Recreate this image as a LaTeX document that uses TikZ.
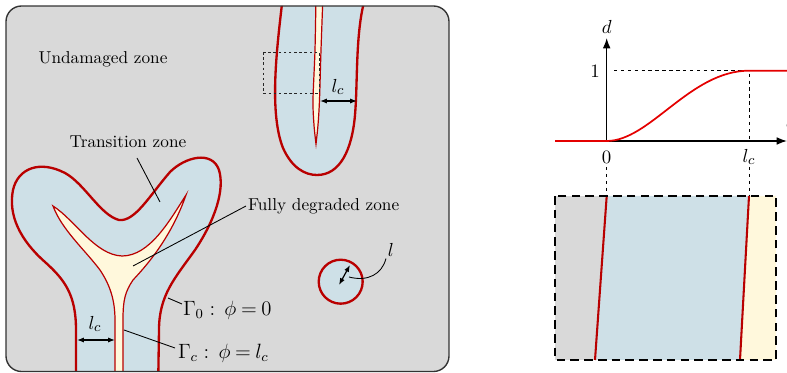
\documentclass[tikz,border=0pt]{standalone}
\usetikzlibrary{arrows.meta}
\definecolor{bgray}{RGB}{217,217,217}
\definecolor{tblue}{RGB}{206,224,231}
\definecolor{fcream}{RGB}{255,248,220}
\definecolor{bred}{RGB}{185,0,0}
\definecolor{cred}{RGB}{228,0,0}
\begin{document}
\begin{tikzpicture}[x=0.58pt,y=-0.58pt,
  outer/.style={draw=bred,line width=1.35pt,fill=tblue},
  inner/.style={draw=bred,line width=0.7pt,fill=fcream},
  lead/.style={line width=0.5pt},
  dimarrow/.style={{Latex[length=4pt,width=3pt]}-{Latex[length=4pt,width=3pt]},line width=0.7pt},
  axisarrow/.style={-{Latex[length=6pt,width=4.5pt]},line width=0.8pt},
  guide/.style={dash pattern=on 2pt off 2pt,line width=0.45pt},
  lbl/.style={inner sep=1pt},
  mlbl/.style={inner sep=1pt,font=\fontsize{11}{13}\selectfont},
  glbl/.style={inner sep=1pt,font=\large}]
\useasboundingbox (0,0) rectangle (787,373);

% ---------------- left panel ----------------
\begin{scope}
\clip[rounded corners=9pt] (6,6) rectangle (449,371.5);
\fill[bgray] (6,6) rectangle (449,371.5);
% top crack
\draw[outer] (283,-5) .. controls (278,40) and (268,110) .. (283,148)
  .. controls (292,168) and (305,175) .. (317,175)
  .. controls (340,175) and (352,150) .. (355,115)
  .. controls (358,80) and (355,30) .. (366,-5) -- cycle;
\draw[inner] (316,-5) -- plot[smooth] coordinates {(316,-5) (315,50) (313,100) (314,125) (316,144)}
  -- plot[smooth] coordinates {(316,144) (318,125) (319.5,100) (321,50) (323,-5)} -- cycle;
% Y-shaped crack
\draw[outer] (76,395) -- (76,330)
  .. controls (76,295) and (65,280) .. (45,262)
  .. controls (20,240) and (8,215) .. (13,190)
  .. controls (18,168) and (40,160) .. (65,173)
  .. controls (85,184) and (100,215) .. (119,220)
  .. controls (135,222) and (150,195) .. (170,172)
  .. controls (185,157) and (212,150) .. (219,170)
  .. controls (225,190) and (215,220) .. (195,250)
  .. controls (175,278) and (159,295) .. (159,330)
  -- (158,395) -- cycle;
\draw[inner] (53,206) .. controls (75,220) and (95,255) .. (122,256)
  .. controls (150,256) and (170,220) .. (186,195)
  .. controls (172,235) and (150,262) .. (133,280)
  .. controls (125,292) and (123,300) .. (123,320)
  -- (123,395) -- (115,395) -- (115,320)
  .. controls (115,300) and (110,285) .. (100,270)
  .. controls (85,250) and (62,230) .. (53,206) -- cycle;
\end{scope}
\draw[rounded corners=9pt,line width=0.8pt,draw=black!80] (6,6) rectangle (449,371.5);

% hole
\node[circle,draw=bred,line width=1.35pt,fill=tblue,minimum size=25.5pt,inner sep=0pt] (hole) at (340.7,281.7) {};
\coordinate (la) at (339,285);
\coordinate (lb) at (350,265);
\draw[dimarrow] (la) -- (lb);
\node[mlbl] (lbl-l) at (391,250) {$l$};
\coordinate (lcurve) at (349,277);
\draw[lead] (lcurve) .. controls (368,282) and (382,274) .. (lbl-l.south west);

% zoom window
\draw[dash pattern=on 1.5pt off 1.5pt,line width=0.55pt,draw=black!85] (263,52) rectangle (319,93);

% l_c dimension (top crack)
\coordinate (lc1a) at (320,101);
\coordinate (lc1b) at (357,101);
\draw[dimarrow] (lc1a) -- (lc1b);
\node[mlbl] (lc1) at (338,87) {$l_c$};

% l_c dimension (Y crack)
\coordinate (lc2a) at (77,340);
\coordinate (lc2b) at (115,340);
\draw[dimarrow] (lc2a) -- (lc2b);
\node[mlbl] (lc2) at (95,324) {$l_c$};

% text labels
\node[lbl] (undam) at (103,59) {Undamaged zone};
\node[lbl] (trans) at (128,142) {Transition zone};
\coordinate (transA) at (137,158);
\coordinate (transB) at (160,202);
\draw[lead] (transA) -- (transB);
\node[lbl,anchor=west] (fully) at (246,206) {Fully degraded zone};
\coordinate (fullyB) at (133,266);
\draw[lead] (fully.west) -- (fullyB);
\node[glbl,anchor=west] (gam0) at (181,310) {$\Gamma_0\mkern5mu{:}\mkern8mu\phi\mkern4mu{=}\mkern4mu0$};
\coordinate (gam0A) at (182,304);
\coordinate (gam0B) at (168,298);
\draw[lead] (gam0A) -- (gam0B);
\node[glbl,anchor=west] (gamc) at (176,353) {$\Gamma_c\mkern5mu{:}\mkern8mu\phi\mkern4mu{=}\mkern4mu l_c$};
\coordinate (gamcA) at (175,348);
\coordinate (gamcB) at (124,330);
\draw[lead] (gamcA) -- (gamcB);

% ---------------- right panel ----------------
% bottom strip
\fill[bgray] (555,196) rectangle (776,360);
\fill[tblue] (606.7,196) -- (749,196) -- (740,360) -- (595,360) -- cycle;
\fill[fcream] (749,196) -- (776,196) -- (776,360) -- (740,360) -- cycle;
\coordinate (s0t) at (606.7,196);
\coordinate (s0b) at (595,360);
\coordinate (s1t) at (749,196);
\coordinate (s1b) at (740,360);
\draw[bred,line width=1.2pt] (s0t) -- (s0b);
\draw[bred,line width=1.2pt] (s1t) -- (s1b);
\draw[dash pattern=on 5pt off 3pt,line width=0.9pt] (555,196) rectangle (776,360);

% graph
\coordinate (O) at (606.7,141);
\coordinate (xstart) at (555,141);
\coordinate (xend) at (787,141);
\coordinate (ytop) at (606.7,38);
\coordinate (one) at (749,70.7);
\coordinate (onefoot) at (749,141);
\coordinate (oneleft) at (614,70.7);
\draw[guide] (oneleft) -- (one) -- (onefoot);
\draw[axisarrow] (xstart) -- (xend);
\draw[axisarrow] (O) -- (ytop);
\draw[cred,line width=1pt] (xstart) -- (O) .. controls (650,141) and (690,70.7) .. (one) -- (790,70.7);
\node[mlbl] (dlab) at (606.7,27) {$d$};
\node[mlbl] (onelab) at (595,71) {$1$};
\node[mlbl] (zerolab) at (606.7,157) {$0$};
\node[mlbl] (lclab) at (749,157) {$l_c$};
\node[mlbl] (philab) at (792,127) {$\varphi$};
\draw[guide] (606.7,167) -- (s0t);
\draw[guide] (749,167) -- (s1t);
\end{tikzpicture}
\end{document}
